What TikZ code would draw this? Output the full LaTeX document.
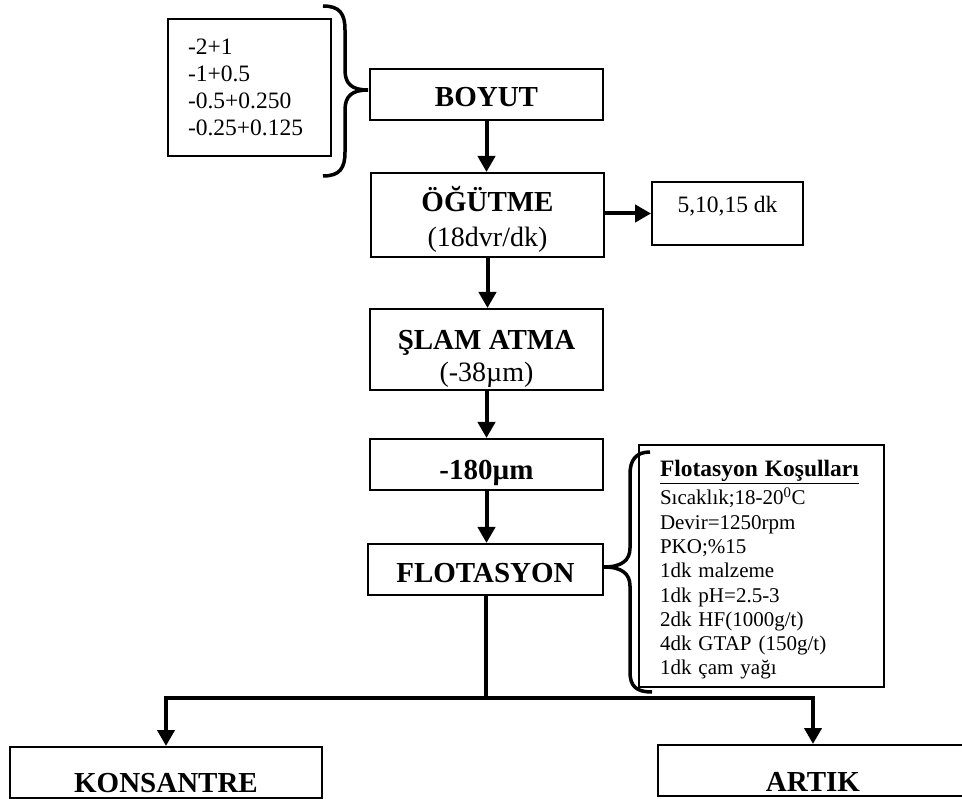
\documentclass[tikz,border=0pt]{standalone}
\usepackage{fontspec}
\setmainfont{Liberation Serif}
\usetikzlibrary{arrows.meta}

\begin{document}
\begin{tikzpicture}[
  x=1pt, y=-1pt,
  box/.style={draw, line width=2pt, minimum width=233pt, minimum height=51pt, inner sep=0pt, align=center, font=\fontsize{29}{35}\selectfont\bfseries},
  note/.style={draw, line width=1.8pt, inner sep=0pt, font=\fontsize{23.5}{27}\selectfont},
  flow/.style={line width=4pt, -{Triangle[length=16pt, width=17pt]}},
  bracket/.style={line width=3.5pt}
]
\useasboundingbox (0,0) rectangle (962,799);

\node[box, text height=24pt, text depth=0pt] (boyut) at (486.5,94.5) {BOYUT};
\node[box, minimum height=84pt] (ogutme) at (487.5,215) {\rule{0pt}{34pt}ÖĞÜTME\\{\normalfont\fontsize{28}{35}\selectfont(18dvr/dk)}};
\node[box, minimum height=81pt, font=\fontsize{29}{32}\selectfont\bfseries] (slam) at (486.5,349.5) {\rule{0pt}{38pt}ŞLAM ATMA\\{\normalfont\fontsize{28}{32}\selectfont(-38µm)}};
\node[box, text height=30pt, text depth=0pt] (elek) at (486.5,464.5) {-180µm};
\node[box, minimum width=235pt, text height=26pt, text depth=0pt] (flot) at (485.5,569.5) {FLOTASYON};
\node[box, minimum width=312pt, text height=40pt, text depth=0pt] (konsantre) at (166,772.5) {KONSANTRE};
\node[box, minimum width=310pt, text height=42pt, text depth=0pt] (artik) at (813,770.5) {ARTIK};

\node[note, minimum height=137pt, text width=123pt, inner xsep=20pt, align=left] (boyutlar) at (249.5,87.5) {-2+1\\-1+0.5\\-0.5+0.250\\-0.25+0.125};
\node[note, minimum width=151pt, minimum height=63pt, text depth=18pt, align=center] (sure) at (727.5,213.5) {5,10,15 dk};
\node[note, minimum height=242pt, text width=203pt, inner xsep=21pt, align=left, font=\fontsize{21}{24.3}\selectfont] (kosul) at (761.5,566)
  {{\fontsize{23.5}{27}\selectfont\bfseries\rule{0pt}{24pt}\underline{Flotasyon Koşulları}}\\[3pt]
   Sıcaklık;18-20\textsuperscript{0}C\\
   Devir=1250rpm\\
   PKO;\%15\\
   1dk malzeme\\
   1dk pH=2.5-3\\
   2dk HF(1000g/t)\\
   4dk GTAP (150g/t)\\
   1dk çam yağı};

% akis
\draw[flow] (boyut.south) -- (boyut.south |- ogutme.north);
\draw[flow] (ogutme.east |- sure.west) -- (sure.west);
\draw[flow] (ogutme.south) -- (ogutme.south |- slam.north);
\draw[flow] (slam.south) -- (slam.south |- elek.north);
\draw[flow] (elek.south) -- (elek.south |- flot.north);

\coordinate (ayrim) at (486,698);
\draw[line width=4pt] (flot.south) -- (flot.south |- ayrim);
\draw[flow] (ayrim) -| (konsantre.north);
\draw[flow] (ayrim) -| (artik.north);

% parantezler
\draw[bracket] (323,6) .. controls (340,6) and (345,14) .. (345,30) -- (345,70)
  .. controls (345,84) and (352,90) .. (368,90) .. controls (352,90) and (345,96) .. (345,110)
  -- (345,152) .. controls (345,168) and (340,176) .. (323,176);
\draw[bracket] (650,452) .. controls (636,452) and (630,460) .. (630,474) -- (630,548)
  .. controls (630,560) and (622,567) .. (604,567) .. controls (622,567) and (630,574) .. (630,586)
  -- (630,672) .. controls (630,686) and (636,692) .. (652,692);
\end{tikzpicture}
\end{document}
